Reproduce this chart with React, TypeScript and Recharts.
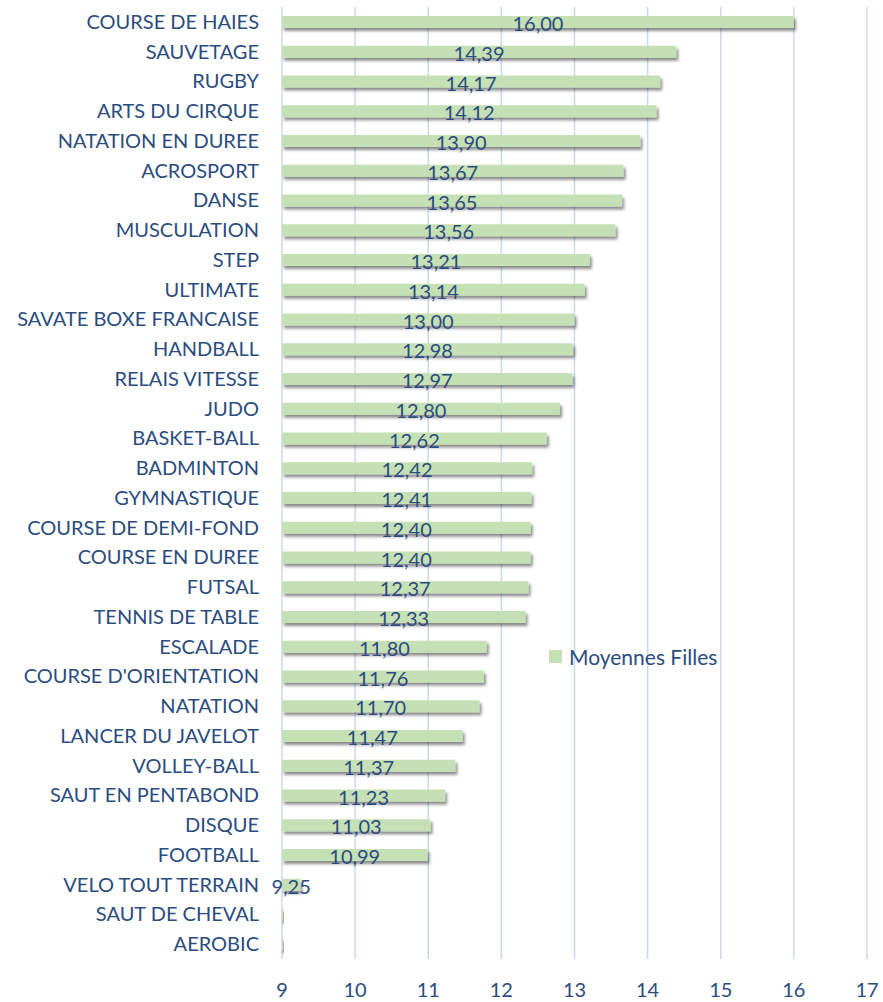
import { Bar, BarChart, CartesianGrid, LabelList, Legend, XAxis, YAxis } from "recharts";

const sports = [
  "COURSE DE HAIES", "SAUVETAGE", "RUGBY", "ARTS DU CIRQUE", "NATATION EN DUREE", "ACROSPORT",
  "DANSE", "MUSCULATION", "STEP", "ULTIMATE", "SAVATE BOXE FRANCAISE", "HANDBALL",
  "RELAIS VITESSE", "JUDO", "BASKET-BALL", "BADMINTON", "GYMNASTIQUE", "COURSE DE DEMI-FOND",
  "COURSE EN DUREE", "FUTSAL", "TENNIS DE TABLE", "ESCALADE", "COURSE D'ORIENTATION", "NATATION",
  "LANCER DU JAVELOT", "VOLLEY-BALL", "SAUT EN PENTABOND", "DISQUE", "FOOTBALL", "VELO TOUT TERRAIN",
  "SAUT DE CHEVAL", "AEROBIC",
];
const moyennesFilles = [
  16.0, 14.39, 14.17, 14.12, 13.9, 13.67, 13.65, 13.56, 13.21, 13.14, 13.0, 12.98,
  12.97, 12.8, 12.62, 12.42, 12.41, 12.4, 12.4, 12.37, 12.33, 11.8, 11.76, 11.7,
  11.47, 11.37, 11.23, 11.03, 10.99, 9.25, 0, 0,
];
const xTicks = [9, 10, 11, 12, 13, 14, 15, 16, 17];

const data = sports.map((name, i) => ({ name, value: moyennesFilles[i] }));

const TEXT = "#2B4C7E";
const GREEN = "#C5E0B4";
const FONT = "Lato, 'Open Sans', sans-serif";

const ShadowBar = (props: any) => {
  const { x, y, width, height, value } = props;
  if (value < 9) {
    return <rect x={x - 2} y={y} width={3} height={height} fill={GREEN} filter="url(#barShadow)" />;
  }
  return <rect x={x} y={y} width={width} height={height} fill={GREEN} filter="url(#barShadow)" />;
};

const fmt = (v: any) => (typeof v === "number" && v >= 9 ? v.toFixed(2).replace(".", ",") : "");

export default function App() {
  return (
    <div style={{ position: "absolute", left: 0, top: 0, width: 883, height: 1002, background: "#fff", fontFamily: FONT }}>
      <svg width={0} height={0} style={{ position: "absolute" }}>
        <defs>
          <filter id="barShadow" x="-10%" y="-50%" width="130%" height="250%">
            <feDropShadow dx={2} dy={3} stdDeviation={1.8} floodColor="#000" floodOpacity={0.45} />
          </filter>
        </defs>
      </svg>
      <BarChart
        width={883}
        height={1002}
        data={data}
        layout="vertical"
        barCategoryGap={0}
        margin={{ top: 7, right: 16, bottom: 0, left: 0 }}
      >
        <CartesianGrid horizontal={false} stroke="#C9DAF0" strokeWidth={1.5} />
        <XAxis
          type="number"
          domain={[9, 17]}
          ticks={xTicks}
          allowDataOverflow
          axisLine={false}
          tickLine={false}
          tickSize={0}
          tickMargin={24}
          height={43}
          tick={{ fill: TEXT, fontSize: 20, fontFamily: FONT }}
        />
        <YAxis
          type="category"
          dataKey="name"
          width={282}
          axisLine={false}
          tickLine={false}
          tickSize={0}
          tickMargin={23}
          interval={0}
          tick={{ fill: TEXT, fontSize: 20, fontFamily: FONT }}
        />
        <Legend
          layout="horizontal"
          verticalAlign="middle"
          align="center"
          wrapperStyle={{ left: 549, top: 644, width: 220 }}
          content={() => (
            <div style={{ display: "flex", alignItems: "center", color: TEXT, fontSize: 21, fontFamily: FONT }}>
              <span style={{ display: "inline-block", width: 13, height: 13, background: GREEN, marginRight: 7 }} />
              Moyennes Filles
            </div>
          )}
        />
        <Bar dataKey="value" name="Moyennes Filles" barSize={12} shape={ShadowBar} isAnimationActive={false}>
          <LabelList
            dataKey="value"
            position="center"
            formatter={fmt}
            fill={TEXT}
            fontSize={20}
            fontFamily={FONT}
            dy={2}
          />
        </Bar>
      </BarChart>
    </div>
  );
}
